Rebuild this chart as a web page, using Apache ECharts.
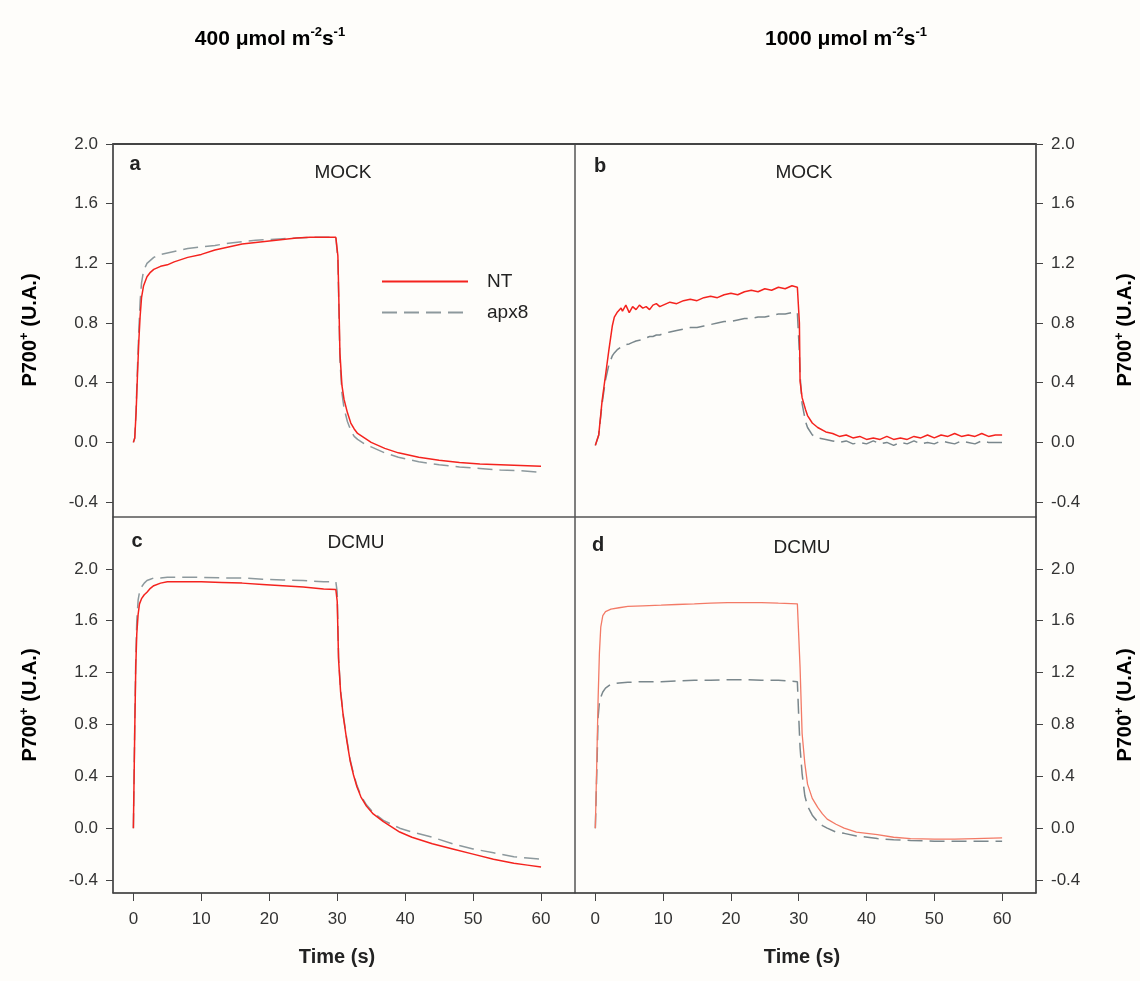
<!DOCTYPE html>
<html>
<head>
<meta charset="utf-8">
<script src="https://cdn.jsdelivr.net/npm/echarts@6/dist/echarts.min.js"></script>
<style>html,body{margin:0;padding:0;background:#fefdfa;}#c{width:1140px;height:981px;}</style>
</head>
<body>
<div id="c"></div>
<script>
// ---- tick labels ----
const xTicks = [0, 10, 20, 30, 40, 50, 60];
const yTicks = [-0.4, 0.0, 0.4, 0.8, 1.2, 1.6, 2.0];

// ---- panel a: MOCK, 400 ----
const timeA = [0, 0.2, 0.4, 0.6, 0.8, 1.0, 1.2, 1.5, 2, 2.5, 3, 4, 5, 6, 8, 10, 12, 14, 16, 18, 20, 22, 24, 26, 28, 29.8, 30.0, 30.1, 30.2, 30.4, 30.7, 31, 31.5, 32, 32.5, 33, 34, 35, 37, 39, 42, 45, 48, 51, 54, 57, 60];
const ntA   = [0, 0.03, 0.2, 0.45, 0.68, 0.85, 0.97, 1.05, 1.11, 1.14, 1.16, 1.18, 1.19, 1.21, 1.24, 1.26, 1.29, 1.31, 1.33, 1.34, 1.35, 1.36, 1.37, 1.375, 1.375, 1.375, 1.37, 1.25, 1.05, 0.6, 0.38, 0.29, 0.2, 0.13, 0.09, 0.06, 0.03, 0.0, -0.04, -0.07, -0.1, -0.12, -0.135, -0.145, -0.15, -0.155, -0.16];
const apxA  = [0, 0.03, 0.22, 0.5, 0.75, 0.95, 1.07, 1.15, 1.2, 1.22, 1.24, 1.26, 1.27, 1.28, 1.3, 1.31, 1.32, 1.335, 1.345, 1.355, 1.36, 1.365, 1.37, 1.375, 1.375, 1.375, 1.37, 1.22, 1.0, 0.55, 0.33, 0.23, 0.14, 0.08, 0.04, 0.02, -0.01, -0.03, -0.07, -0.1, -0.13, -0.15, -0.165, -0.175, -0.185, -0.19, -0.2];

// ---- panel b: MOCK, 1000 ----
const timeB = [0, 0.25, 0.5, 1.0, 1.5, 2.0, 2.5, 2.8, 3.2, 3.8, 4, 4.5, 5, 5.5, 6, 6.5, 7, 7.5, 8, 8.5, 9, 9.5, 10, 11, 12, 13, 14, 15, 16, 17, 18, 19, 20, 21, 22, 23, 24, 25, 26, 27, 28, 29, 29.8, 30.0, 30.1, 30.2, 30.5, 31, 31.3, 32, 32.8, 34, 35, 36, 37, 38, 39, 40, 41, 42, 43, 44, 45, 46, 47, 48, 49, 50, 51, 52, 53, 54, 55, 56, 57, 58, 59, 60];
const ntB   = [-0.02, -0.02, 0.05, 0.28, 0.45, 0.62, 0.78, 0.84, 0.87, 0.9, 0.88, 0.92, 0.87, 0.91, 0.89, 0.92, 0.9, 0.91, 0.89, 0.92, 0.93, 0.91, 0.92, 0.94, 0.93, 0.95, 0.96, 0.95, 0.97, 0.98, 0.97, 0.99, 1.0, 0.99, 1.01, 1.02, 1.01, 1.03, 1.02, 1.04, 1.03, 1.05, 1.04, 1.05, 0.8, 0.41, 0.3, 0.22, 0.18, 0.13, 0.1, 0.07, 0.06, 0.04, 0.05, 0.03, 0.04, 0.02, 0.03, 0.02, 0.04, 0.02, 0.03, 0.02, 0.04, 0.03, 0.05, 0.03, 0.05, 0.04, 0.06, 0.04, 0.05, 0.04, 0.06, 0.04, 0.05, 0.05];
const apxB  = [-0.02, -0.02, 0.05, 0.26, 0.42, 0.52, 0.58, 0.6, 0.62, 0.64, 0.65, 0.655, 0.66, 0.67, 0.68, 0.685, 0.69, 0.7, 0.71, 0.71, 0.72, 0.72, 0.73, 0.74, 0.75, 0.76, 0.77, 0.77, 0.78, 0.79, 0.8, 0.81, 0.81, 0.82, 0.83, 0.83, 0.84, 0.84, 0.85, 0.86, 0.86, 0.87, 0.87, 0.86, 0.6, 0.45, 0.26, 0.14, 0.1, 0.05, 0.03, 0.02, 0.01, 0.0, 0.01, -0.01, 0.0, -0.01, 0.01, -0.01, 0.0, -0.02, 0.0, -0.01, 0.01, -0.01, 0.0, -0.01, 0.01, 0.0, -0.01, 0.01, 0.0, -0.01, 0.01, 0.0, 0.0, 0.0];

// ---- panel c: DCMU, 400 ----
const timeC = [0, 0.2, 0.35, 0.5, 0.7, 0.9, 1.2, 1.6, 2, 2.5, 3, 4, 5, 7, 10, 13, 16, 19, 22, 25, 28, 29.8, 30.0, 30.2, 30.5, 30.9, 31.4, 31.9, 32.4, 32.9, 33.5, 34.3, 35.3, 36.8, 38, 39.2, 41, 44, 47, 50, 53, 56, 58, 60];
const ntC   = [0, 0.75, 1.24, 1.5, 1.65, 1.73, 1.77, 1.8, 1.82, 1.85, 1.87, 1.89, 1.9, 1.9, 1.9, 1.895, 1.89, 1.88, 1.87, 1.86, 1.845, 1.84, 1.75, 1.3, 1.05, 0.86, 0.68, 0.52, 0.41, 0.32, 0.24, 0.17, 0.11, 0.05, 0.01, -0.03, -0.07, -0.12, -0.16, -0.2, -0.24, -0.27, -0.285, -0.3];
const apxC  = [0, 0.8, 1.3, 1.6, 1.76, 1.82, 1.86, 1.89, 1.91, 1.92, 1.93, 1.93, 1.935, 1.935, 1.935, 1.93, 1.93, 1.92, 1.915, 1.91, 1.9, 1.9, 1.82, 1.32, 1.06, 0.87, 0.69, 0.53, 0.42, 0.33, 0.25, 0.18, 0.12, 0.06, 0.03, 0.0, -0.03, -0.07, -0.12, -0.16, -0.19, -0.22, -0.23, -0.24];

// ---- panel d: DCMU, 1000 ----
const timeD = [0, 0.1, 0.25, 0.4, 0.6, 0.8, 1.1, 1.5, 2.3, 3.5, 4.8, 7, 9.7, 12, 14.6, 17, 19.5, 22, 24.5, 27, 29.8, 30.0, 30.2, 30.5, 30.9, 31.3, 32, 32.8, 33.5, 34.2, 35.5, 36.7, 38.5, 41.6, 44, 46.5, 50, 53, 56, 60];
const ntD   = [0, 0, 0.6, 0.98, 1.35, 1.55, 1.64, 1.67, 1.69, 1.7, 1.71, 1.715, 1.72, 1.725, 1.73, 1.735, 1.74, 1.74, 1.74, 1.735, 1.73, 1.73, 1.24, 0.73, 0.5, 0.34, 0.23, 0.16, 0.11, 0.07, 0.03, 0.0, -0.03, -0.05, -0.07, -0.08, -0.085, -0.085, -0.08, -0.075];
const apxD  = [0, 0, 0.5, 0.85, 0.97, 1.01, 1.05, 1.08, 1.11, 1.12, 1.125, 1.13, 1.13, 1.135, 1.14, 1.14, 1.145, 1.145, 1.14, 1.14, 1.13, 0.86, 0.62, 0.42, 0.25, 0.17, 0.1, 0.05, 0.02, 0.0, -0.03, -0.04, -0.06, -0.08, -0.09, -0.095, -0.1, -0.1, -0.1, -0.1];

const zip = (t, v) => t.map((x, i) => [x, v[i]]);

const FONT = 'Liberation Sans, Arial, sans-serif';
const AX = '#444';
const grids = [
  {left: 113, top: 144, width: 462, height: 373},
  {left: 575, top: 144, width: 461, height: 373},
  {left: 113, top: 517, width: 462, height: 376},
  {left: 575, top: 517, width: 461, height: 376}
].map(g => Object.assign({show: true, borderColor: '#555', borderWidth: 1, backgroundColor: 'transparent'}, g));

const yRanges = [[-0.5, 2.0], [-0.5, 2.0], [-0.5, 2.4], [-0.5, 2.4]];

const xAxes = [];
const yAxes = [];
for (let i = 0; i < 4; i++) {
  const bottom = i >= 2;
  xAxes.push({
    type: 'value', gridIndex: i, min: -3, max: 65, position: 'bottom',
    splitLine: {show: false},
    axisLine: {show: bottom, onZero: false, lineStyle: {color: AX, width: 1.5}},
    axisTick: {show: bottom, customValues: xTicks, length: 8, lineStyle: {color: AX, width: 1}},
    axisLabel: {show: bottom, customValues: xTicks, margin: 18, fontSize: 17, color: '#333', fontFamily: FONT}
  });
  const right = (i % 2) === 1;
  yAxes.push({
    type: 'value', gridIndex: i, min: yRanges[i][0], max: yRanges[i][1],
    position: right ? 'right' : 'left',
    splitLine: {show: false},
    axisLine: {show: true, onZero: false, lineStyle: {color: AX, width: 1.5}},
    axisTick: {show: true, customValues: yTicks, length: 7, lineStyle: {color: AX, width: 1}},
    axisLabel: {show: true, customValues: yTicks, margin: 15, fontSize: 17, color: '#333', fontFamily: FONT,
      formatter: v => v.toFixed(1)}
  });
}
// top frame lines for the upper panels
xAxes.push({type: 'value', gridIndex: 0, min: -3, max: 65, position: 'top', splitLine: {show: false},
  axisLine: {show: true, onZero: false, lineStyle: {color: AX, width: 2}}, axisTick: {show: false}, axisLabel: {show: false}});
xAxes.push({type: 'value', gridIndex: 1, min: -3, max: 65, position: 'top', splitLine: {show: false},
  axisLine: {show: true, onZero: false, lineStyle: {color: AX, width: 2}}, axisTick: {show: false}, axisLabel: {show: false}});

const RED = '#f4231e';
const SALMON = '#f37a66';
const GRAY = '#8d999d';
const DGRAY = '#7a878c';
const DASH = [15, 7];

function line(name, idx, data, color, dashed, width) {
  return {
    name: name, type: 'line', xAxisIndex: idx, yAxisIndex: idx, data: data,
    symbol: 'none', showSymbol: false, animation: false, silent: true,
    z: dashed ? 2 : 3,
    lineStyle: {color: color, width: width || 1.5, type: dashed ? DASH : 'solid'},
    itemStyle: {color: color}
  };
}

const series = [
  line('apx8', 0, zip(timeA, apxA), GRAY, true),
  line('NT', 0, zip(timeA, ntA), RED, false),
  line('apx8', 1, zip(timeB, apxB), DGRAY, true),
  line('NT', 1, zip(timeB, ntB), RED, false),
  line('apx8', 2, zip(timeC, apxC), GRAY, true),
  line('NT', 2, zip(timeC, ntC), RED, false),
  line('apx8', 3, zip(timeD, apxD), DGRAY, true),
  line('NT', 3, zip(timeD, ntD), SALMON, false, 1.3)
];

function txt(x, y, text, opts) {
  return Object.assign({type: 'text', x: x, y: y, silent: true,
    style: Object.assign({text: text, fill: '#222', align: 'center', verticalAlign: 'middle', font: '19px ' + FONT}, opts || {})});
}
const supRich = {
  b: {fontSize: 21, fontWeight: 'bold', fontFamily: FONT, color: '#222', lineHeight: 24},
  s: {fontSize: 13, fontWeight: 'bold', fontFamily: FONT, color: '#222', lineHeight: 24, padding: [0, 0, 14, 0]}
};
const ylabRich = {
  b: {fontSize: 20, fontWeight: 'bold', fontFamily: FONT, color: '#222', lineHeight: 22},
  s: {fontSize: 13, fontWeight: 'bold', fontFamily: FONT, color: '#222', lineHeight: 22, padding: [0, 0, 12, 0]}
};
function richTxt(x, y, text, rich, rot) {
  return {type: 'text', x: x, y: y, rotation: rot || 0, silent: true,
    style: {text: text, rich: rich, align: 'center', verticalAlign: 'middle'}};
}

const graphics = [
  richTxt(270, 39, '{b|400 μmol m}{s|-2}{b|s}{s|-1}', supRich),
  richTxt(846, 39, '{b|1000 μmol m}{s|-2}{b|s}{s|-1}', supRich),
  txt(135, 164, 'a', {font: 'bold 20px ' + FONT}),
  txt(343, 173, 'MOCK'),
  txt(600, 166, 'b', {font: 'bold 20px ' + FONT}),
  txt(804, 173, 'MOCK'),
  txt(137, 541, 'c', {font: 'bold 20px ' + FONT}),
  txt(356, 543, 'DCMU'),
  txt(598, 545, 'd', {font: 'bold 20px ' + FONT}),
  txt(802, 548, 'DCMU'),
  txt(337, 957, 'Time (s)', {font: 'bold 20px ' + FONT}),
  txt(802, 957, 'Time (s)', {font: 'bold 20px ' + FONT}),
  richTxt(30, 330, '{b|P700}{s|+}{b| (U.A.)}', ylabRich, Math.PI / 2),
  richTxt(30, 705, '{b|P700}{s|+}{b| (U.A.)}', ylabRich, Math.PI / 2),
  richTxt(1125, 330, '{b|P700}{s|+}{b| (U.A.)}', ylabRich, Math.PI / 2),
  richTxt(1125, 705, '{b|P700}{s|+}{b| (U.A.)}', ylabRich, Math.PI / 2)
];

const chart = echarts.init(document.getElementById('c'), null, {renderer: 'canvas'});
chart.setOption({
  backgroundColor: '#fefdfa',
  animation: false,
  grid: grids,
  xAxis: xAxes,
  yAxis: yAxes,
  series: series,
  legend: {
    data: ['NT', 'apx8'], orient: 'vertical', left: 376, top: 267,
    itemWidth: 86, itemHeight: 14, itemGap: 12, selectedMode: false,
    itemStyle: {opacity: 0},
    textStyle: {fontSize: 19, color: '#222', fontFamily: FONT, padding: [0, 0, 0, 14]}
  },
  graphic: graphics
});
</script>
</body>
</html>
